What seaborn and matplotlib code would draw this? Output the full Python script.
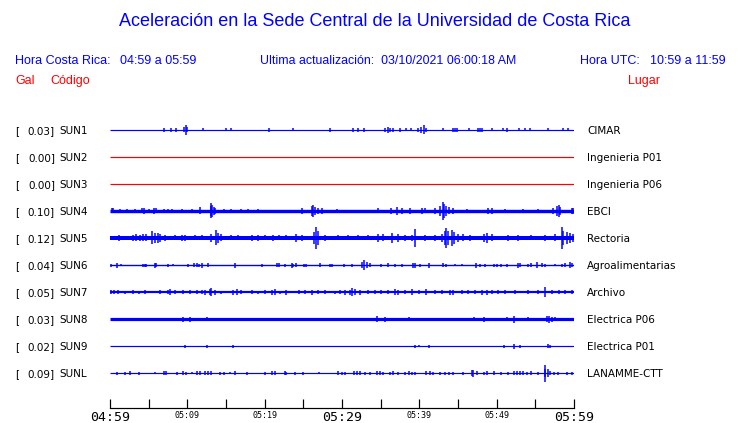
import matplotlib
matplotlib.use("Agg")
import matplotlib.pyplot as plt
import seaborn as sns


# station info
stations = ["SUN1", "SUN2", "SUN3", "SUN4", "SUN5", "SUN6", "SUN7", "SUN8", "SUN9", "SUNL"]
peaks = [0.03, 0.00, 0.00, 0.10, 0.12, 0.04, 0.05, 0.03, 0.02, 0.09]
places = ["CIMAR", "Ingenieria P01", "Ingenieria P06", "EBCI", "Rectoria",
          "Agroalimentarias", "Archivo", "Electrica P06", "Electrica P01", "LANAMME-CTT"]
online = [True, False, False, True, True, True, True, True, True, True]

# minutes after 04:59 and tick labels
tick_minutes = [0, 5, 10, 15, 20, 25, 30, 35, 40, 45, 50, 55, 60]
tick_labels = ["04:59", "", "05:09", "", "05:19", "", "05:29", "", "05:39", "", "05:49", "", "05:59"]

# background noise level of each trace (half width, screen px)
noise = [0.6, 0.6, 0.6, 1.7, 2.0, 0.7, 1.1, 1.6, 0.6, 0.6]

# spikes: minute and half amplitude (screen px)
sun1_t = [7.0, 7.9, 8.5, 9.6, 9.8, 10.0, 12.0, 15.0, 15.6, 20.6, 23.7, 28.4, 31.4, 32.1, 32.8,
          35.6, 36.0, 36.2, 36.6, 37.5, 38.3, 38.9, 39.8, 40.2, 40.6, 40.9, 43.1, 44.4, 44.6,
          44.9, 46.4, 47.6, 47.8, 48.1, 49.4, 50.8, 51.3, 52.9, 53.7, 54.3, 56.6, 58.6, 59.2]
sun1_a = [2, 2, 2, 2.5, 5, 2.5, 1.5, 1.5, 1.5, 2, 1.5, 2, 2, 2, 2,
          2, 3, 2, 2, 2, 1.5, 1.5, 2, 3, 4.5, 2, 1.5, 2, 2,
          2, 1.5, 2, 2, 2, 1.5, 1.5, 2, 1.5, 1.5, 1.5, 1.5, 1.5, 1.5]
sun2_t = []
sun2_a = []
sun3_t = []
sun3_a = []
sun4_t = [0.2, 0.4, 1.3, 2.2, 3.2, 4.1, 4.4, 5.0, 5.7, 6.0, 7.0, 7.5, 8.0, 9.3, 10.6, 11.6,
          13.0, 13.1, 13.2, 13.4, 13.6, 14.7, 15.7, 17.0, 17.9, 19.2, 24.8, 26.1, 26.3, 26.5,
          26.9, 27.4, 29.3, 34.7, 36.4, 37.1, 37.7, 38.8, 40.3, 40.7, 42.0, 42.7, 43.0, 43.2,
          43.5, 43.9, 44.3, 46.1, 48.9, 49.4, 51.1, 53.4, 55.4, 57.3, 57.8, 58.0, 58.2, 59.7, 59.9]
sun4_a = [2.5, 2.5, 2, 2, 2, 2.5, 3, 2, 3, 2.5, 2, 2, 2, 2, 2, 3.5,
          5, 7.5, 6, 4, 3, 2, 2, 2, 2, 2, 3, 5, 6, 4,
          3, 3, 2, 2.5, 3, 4, 3, 3, 3, 2.5, 3, 5, 9, 7,
          5, 3.5, 3, 2, 3, 3, 2, 2, 2, 3, 5, 6, 4, 3, 3]
sun5_t = [1.1, 3.0, 3.4, 3.9, 4.3, 4.7, 5.4, 5.8, 6.2, 6.5, 7.1, 8.4, 9.3, 9.7, 11.0, 11.9,
          13.1, 13.7, 14.0, 14.4, 15.7, 16.6, 18.3, 19.2, 20.0, 21.1, 21.8, 22.8, 24.1, 24.8,
          26.4, 26.7, 26.9, 27.8, 29.5, 30.8, 32.1, 33.4, 34.7, 35.3, 36.5, 37.3, 38.1, 39.0,
          39.5, 40.7, 42.0, 42.9, 43.3, 43.5, 43.7, 44.2, 44.5, 45.0, 45.6, 46.6, 48.3, 48.7,
          49.4, 51.5, 52.8, 54.5, 56.3, 57.5, 58.4, 58.6, 59.1, 59.5, 59.9]
sun5_a = [3, 3, 3.5, 3, 3.5, 3.5, 6.5, 5, 4.5, 4, 3, 2.5, 3, 3, 2.5, 2.5,
          4, 7.5, 5, 3.5, 2.5, 2.5, 3, 3, 2.5, 3, 2.5, 2.5, 4, 3,
          6, 11, 7, 3, 2.5, 2.5, 2.5, 2.5, 4, 3.5, 5, 4, 3, 3,
          9, 3, 3, 4, 7, 9.5, 7, 8, 6, 4, 3.5, 3, 4, 5,
          3.5, 3, 3, 2.5, 3, 3.5, 11, 7, 6, 5, 4]
sun6_t = [0.1, 0.9, 1.4, 4.3, 4.5, 4.7, 5.8, 6.0, 7.5, 8.2, 10.1, 10.8, 11.2, 11.5, 11.9, 12.7,
          16.2, 19.7, 21.6, 21.8, 22.6, 23.5, 23.7, 24.1, 25.1, 25.4, 27.2, 28.4, 28.7, 30.2,
          31.3, 32.6, 32.9, 33.2, 33.6, 35.1, 36.0, 36.9, 37.7, 39.2, 39.4, 40.1, 41.2, 43.1,
          43.5, 44.6, 45.5, 47.3, 47.8, 48.5, 49.6, 50.0, 50.6, 51.3, 52.8, 53.0, 54.1, 54.5,
          55.2, 55.8, 56.3, 57.5, 58.4, 58.8, 59.5, 59.7]
sun6_a = [1.5, 2.5, 1, 1.5, 1.5, 1.5, 2.5, 2, 1.5, 1, 1.5, 2, 2, 1.5, 2.5, 2,
          2.5, 1.5, 2, 2, 1.5, 2.5, 1.5, 2, 1.5, 1.5, 2, 1.5, 1.5, 1.5,
          1.5, 3, 5, 3, 2, 1.5, 2, 1.5, 1.5, 2.5, 2.5, 1.5, 2.5, 2,
          1.5, 1, 1, 2.5, 1.5, 1.5, 1.5, 1.5, 1.5, 1.5, 2.5, 2, 1.5, 2,
          3, 2, 1.5, 1, 1.5, 2, 3, 2]
sun7_t = [0.1, 0.5, 1.0, 1.9, 3.0, 3.7, 4.5, 5.8, 6.5, 7.5, 7.8, 8.4, 9.5, 10.3, 11.2, 11.9,
          12.3, 12.9, 13.1, 13.6, 14.4, 15.9, 16.4, 17.0, 18.3, 19.2, 20.0, 20.9, 21.3, 22.0,
          22.8, 24.4, 25.2, 26.1, 26.9, 27.8, 29.1, 29.7, 30.4, 31.0, 31.3, 31.7, 32.3, 33.4,
          34.3, 35.1, 36.0, 36.9, 37.3, 38.1, 39.0, 39.9, 40.9, 42.0, 42.9, 44.0, 44.4, 45.5,
          46.3, 47.2, 48.1, 48.7, 49.4, 50.2, 51.1, 52.4, 54.1, 55.4, 56.2, 57.1, 58.0, 58.8, 59.7]
sun7_a = [2, 2, 2, 1.5, 2, 1.5, 2, 1, 2, 2, 3, 2, 2, 2, 2, 2,
          2.5, 3, 4, 2.5, 1.5, 2.5, 3, 2, 2, 1.5, 2, 2.5, 3, 1.5,
          2.5, 2, 2, 2.5, 2, 2, 1.5, 2, 2.5, 2.5, 4, 3, 2.5, 2,
          2, 2, 2, 3, 2.5, 2, 3, 2, 3, 2, 2, 2.5, 2.5, 2,
          2, 2, 2.5, 2.5, 2, 2, 2, 2, 2, 2, 5, 2, 2, 2, 2]
sun8_t = [9.4, 10.3, 12.5, 15.1, 20.3, 21.4, 25.4, 26.3, 34.5, 35.6, 38.7, 47.1, 48.4, 51.3,
          52.2, 54.0, 56.5, 56.8, 57.1, 57.6]
sun8_a = [2.5, 2.5, 2, 1.5, 1.5, 1.5, 1.5, 1.5, 3, 2.5, 2, 2, 2.5, 2,
          3.5, 2, 3, 3.5, 2.5, 2]
sun9_t = [9.7, 12.6, 15.9, 39.4, 40.0, 41.3, 50.9, 52.2, 53.0, 56.6, 56.9]
sun9_a = [1.5, 1.5, 1.5, 1.5, 1, 1.5, 1.5, 2.5, 1.5, 2, 1.5]
sunl_t = [0.9, 1.9, 2.6, 3.8, 5.8, 7.0, 7.3, 8.6, 9.5, 9.8, 10.6, 11.2, 11.6, 12.3, 12.7, 13.1,
          14.2, 14.7, 15.5, 16.2, 17.7, 20.0, 20.9, 21.3, 22.6, 22.8, 23.9, 25.0, 27.0, 29.5,
          30.0, 30.4, 31.5, 31.9, 32.3, 33.0, 33.6, 34.5, 34.9, 35.3, 36.2, 36.6, 37.3, 38.1,
          38.6, 39.0, 39.4, 40.9, 41.4, 41.8, 42.7, 43.3, 43.8, 44.4, 45.7, 46.8, 47.0, 47.4,
          48.3, 48.7, 49.6, 50.6, 51.5, 52.2, 52.6, 53.0, 53.4, 53.9, 54.5, 55.4, 56.2, 56.3,
          56.6, 56.9, 57.4, 57.9, 59.1, 59.7]
sunl_a = [1.5, 1.5, 2, 1.5, 1, 2, 2, 1.5, 2, 1.5, 1, 2, 2, 2, 2, 2,
          1.5, 1.5, 1, 2, 1.5, 1.5, 2, 2, 2, 1.5, 1.5, 1.5, 1, 2,
          1.5, 1.5, 2, 2, 2, 1.5, 1.5, 2, 2, 1.5, 1.5, 2, 1.5, 1.5,
          2, 1.5, 1.5, 2, 2, 1.5, 1.5, 1.5, 1.5, 1.5, 1.5, 3, 3.5, 2,
          1.5, 2, 2, 1.5, 1.5, 2, 2, 2, 2, 1.5, 2, 1.5, 4, 8.5,
          4, 2, 1.5, 1.5, 1.5, 1.5]

spike_t = [sun1_t, sun2_t, sun3_t, sun4_t, sun5_t, sun6_t, sun7_t, sun8_t, sun9_t, sunl_t]
spike_a = [sun1_a, sun2_a, sun3_a, sun4_a, sun5_a, sun6_a, sun7_a, sun8_a, sun9_a, sunl_a]

BLUE = "#0000ff"
RED = "#ff0000"
W, H = 740, 423
ROW_PX = 27.0
PX = 0.72  # one screen pixel in points

sns.set_style("white")
plt.rcParams["font.family"] = ["DejaVu Sans"]
plt.rcParams["text.color"] = "black"

fig = plt.figure(figsize=(W / 100, H / 100), dpi=100)
ax = fig.add_axes([110 / W, 1 - 408 / H, 464 / W, 293 / H])


def fx(px):
    return px / W


def fy(py):
    return 1 - py / H


# traces
for i, st in enumerate(stations):
    col = BLUE if online[i] else RED
    sns.lineplot(x=[0, 60], y=[i, i], color=col, linewidth=2 * noise[i] * PX, ax=ax,
                 solid_capstyle="butt")
    if spike_t[i]:
        amp = [a / ROW_PX for a in spike_a[i]]
        ax.vlines(spike_t[i], [i - a for a in amp], [i + a for a in amp],
                  color=col, linewidth=1.5 * PX)

ax.set_xlim(0, 60)
ax.set_ylim((408 - 130) / ROW_PX, (115 - 130) / ROW_PX)
ax.set_yticks([])
for s in ["top", "left", "right"]:
    ax.spines[s].set_visible(False)
ax.spines["bottom"].set_color("black")
ax.spines["bottom"].set_linewidth(1.2 * PX)
ax.set_xticks(tick_minutes)
ax.set_xticklabels(tick_labels)
ax.tick_params(axis="x", bottom=True, direction="in", length=9 * PX, width=1.2 * PX,
               color="black", pad=2)
for k, lab in enumerate(ax.get_xticklabels()):
    big = tick_minutes[k] in (0, 30, 60)
    lab.set_family("DejaVu Sans Mono")
    lab.set_fontsize(9.5 if big else 6)
    lab.set_color("black")
ax.set_xlabel("")
ax.set_ylabel("")

# row labels
for i, st in enumerate(stations):
    yy = fy(130 + ROW_PX * i)
    fig.text(fx(15), yy, "[", fontsize=7.5, va="center_baseline", ha="left")
    fig.text(fx(55), yy, f"{peaks[i]:.2f}]", fontsize=7.5, va="center_baseline", ha="right")
    fig.text(fx(59), yy, st, fontsize=7.5, va="center_baseline", ha="left")
    fig.text(fx(587), yy, places[i], fontsize=7.5, va="center_baseline", ha="left")

# header
hfont = "Liberation Sans"
fig.text(fx(375), fy(22), "Aceleración en la Sede Central de la Universidad de Costa Rica",
         fontsize=13, color=BLUE, ha="center", va="center", family=hfont)
fig.text(fx(15), fy(61), "Hora Costa Rica:", fontsize=9, color=BLUE, va="center", family=hfont)
fig.text(fx(120), fy(61), "04:59 a 05:59", fontsize=9, color=BLUE, va="center", family=hfont)
fig.text(fx(260), fy(61), "Ultima actualización:  03/10/2021 06:00:18 AM", fontsize=8.9,
         color=BLUE, va="center", family=hfont)
fig.text(fx(580), fy(61), "Hora UTC:", fontsize=9, color=BLUE, va="center", family=hfont)
fig.text(fx(650), fy(61), "10:59 a 11:59", fontsize=9, color=BLUE, va="center", family=hfont)
fig.text(fx(15), fy(81), "Gal", fontsize=9, color=RED, va="center", family=hfont)
fig.text(fx(50), fy(81), "Código", fontsize=9, color=RED, va="center", family=hfont)
fig.text(fx(628), fy(81), "Lugar", fontsize=9, color=RED, va="center", family=hfont)

fig.savefig("out.png", dpi=100)
